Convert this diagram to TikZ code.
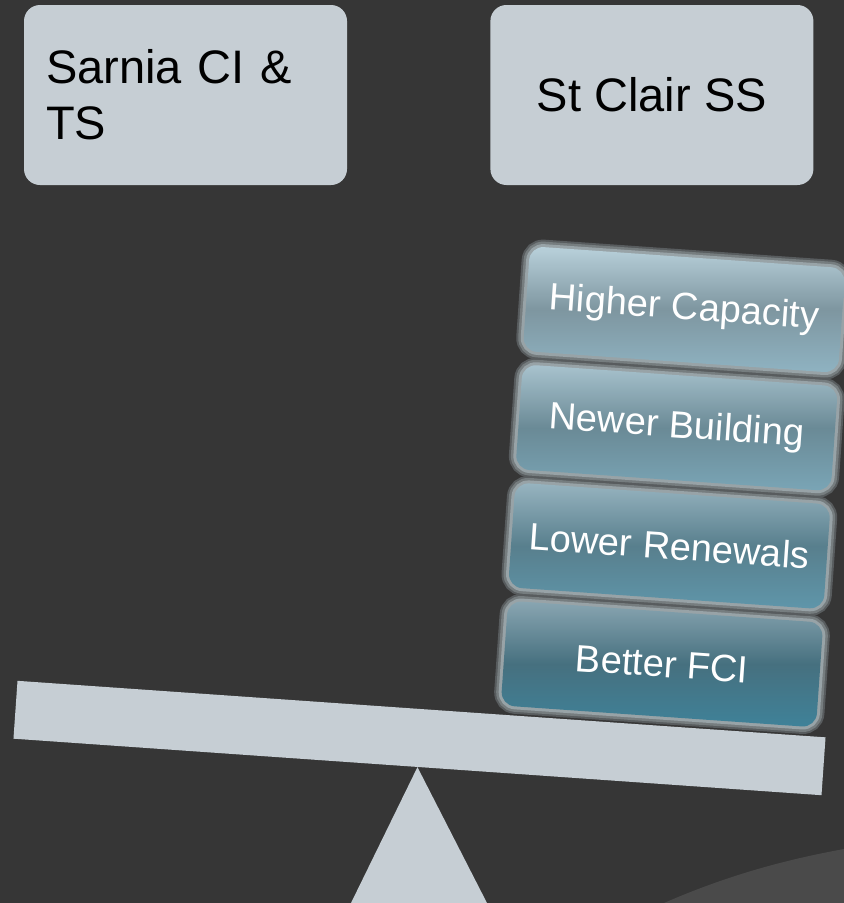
\documentclass[tikz,border=0pt]{standalone}
\usepackage{fontspec}
\setmainfont{Liberation Sans}
\usetikzlibrary{positioning}
\definecolor{bgdark}{HTML}{363636}
\definecolor{bgarc}{HTML}{4A4A4A}
\definecolor{slate}{HTML}{C6CED4}
\definecolor{glowgray}{HTML}{98A3A7}
\definecolor{fciTop}{HTML}{8AA6B2}
\definecolor{fciMid}{HTML}{46707F}
\definecolor{fciBot}{HTML}{3F8299}
\definecolor{renTop}{HTML}{98B4C0}
\definecolor{renMid}{HTML}{587F8D}
\definecolor{renBot}{HTML}{5F96AA}
\definecolor{bldTop}{HTML}{A9C3CE}
\definecolor{bldMid}{HTML}{6A8A96}
\definecolor{bldBot}{HTML}{7AA5B6}
\definecolor{capTop}{HTML}{B9D1DB}
\definecolor{capMid}{HTML}{7E96A0}
\definecolor{capBot}{HTML}{8FB3C2}
\tikzset{
  topbox/.style={fill=slate, rounded corners=16pt, minimum width=323pt, minimum height=180pt,
    inner xsep=22pt, font=\fontsize{47}{56}\selectfont},
  weight/.style={rotate=-4, rounded corners=14pt, minimum width=316pt, minimum height=105pt,
    text=white, font=\fontsize{38}{44}\selectfont,
    preaction={draw=glowgray!35!bgdark, line width=15pt},
    preaction={draw=glowgray!65!bgdark, line width=11pt},
    preaction={draw=glowgray, line width=6pt}},
  plank/.style={fill=slate, rotate=-4, minimum width=810pt, minimum height=58pt, inner sep=0pt},
}

\begin{document}
\begin{tikzpicture}[x=1pt, y=-1pt, node distance=13pt]
\useasboundingbox (0,0) rectangle (844,903);
\fill[bgdark] (0,0) rectangle (844,903);
\fill[bgarc] (664,903) .. controls (735,872) and (795,858) .. (844,849) -- (844,903) -- cycle;

\node[topbox, text width=279pt, align=left] (sarnia) at (185.5,95) {Sarnia CI \&\\TS};
\node[topbox] (stclair) [right=143pt of sarnia] {St Clair SS};

\node[weight, top color=fciTop, bottom color=fciBot, middle color=fciMid] (fci) at (662,664) {Better FCI};
\node[weight, top color=renTop, bottom color=renBot, middle color=renMid] (renewals) [above=of fci] {Lower Renewals};
\node[weight, top color=bldTop, bottom color=bldBot, middle color=bldMid] (building) [above=of renewals] {Newer Building};
\node[weight, top color=capTop, bottom color=capBot, middle color=capMid] (capacity) [above=of building] {Higher Capacity};

\node[plank] (beam) at (419.5,738) {};
\fill[slate] (beam.south) -- (351,903) -- (487,903) -- cycle;
\end{tikzpicture}
\end{document}
